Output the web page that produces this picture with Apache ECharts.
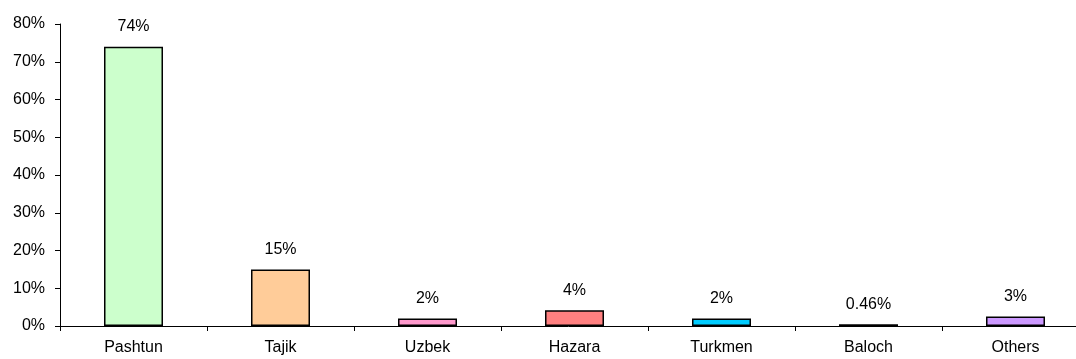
<!DOCTYPE html>
<html>
<head>
<meta charset="utf-8">
<script src="https://cdn.jsdelivr.net/npm/echarts@6/dist/echarts.min.js"></script>
<style>
html,body{margin:0;padding:0;background:#fff;}
#chart{width:1076px;height:359px;}
</style>
</head>
<body>
<div id="chart"></div>
<script>
var categories = ['Pashtun', 'Tajik', 'Uzbek', 'Hazara', 'Turkmen', 'Baloch', 'Others'];
var values = [74, 15, 2, 4.2, 2, 0.46, 2.5];
var valueLabels = ['74%', '15%', '2%', '4%', '2%', '0.46%', '3%'];
var barColors = ['#CCFFCC', '#FFCC99', '#FF99CC', '#FF8080', '#00CCFF', '#000000', '#CC99FF'];
var yTicks = [0, 10, 20, 30, 40, 50, 60, 70, 80];

var font = 'Liberation Sans, Arial, sans-serif';
var chart = echarts.init(document.getElementById('chart'), null, {renderer: 'canvas'});
chart.setOption({
  animation: false,
  backgroundColor: '#ffffff',
  grid: {left: 60, top: 24, width: 1029, height: 302, containLabel: false, outerBoundsMode: 'none'},
  xAxis: {
    type: 'category',
    data: categories,
    boundaryGap: true,
    axisLine: {lineStyle: {color: '#000', width: 1}},
    axisTick: {show: true, alignWithLabel: false, length: 5, lineStyle: {color: '#000'}},
    axisLabel: {color: '#000', fontFamily: font, fontSize: 16, margin: 14, interval: 0}
  },
  yAxis: {
    type: 'value',
    min: yTicks[0],
    max: yTicks[yTicks.length - 1],
    interval: 10,
    axisLine: {show: true, lineStyle: {color: '#000', width: 1}},
    axisTick: {show: true, length: 5, lineStyle: {color: '#000'}},
    splitLine: {show: false},
    axisLabel: {color: '#000', fontFamily: font, fontSize: 16, margin: 15, formatter: function (v) { return v + '%'; }}
  },
  series: [{
    type: 'bar',
    data: values.map(function (v, i) {
      return {value: v, itemStyle: {color: barColors[i]}};
    }),
    barWidth: 59,
    itemStyle: {borderColor: '#000', borderWidth: 1.5},
    label: {
      show: true,
      position: 'top',
      distance: 12,
      color: '#000',
      fontFamily: font,
      fontSize: 16,
      formatter: function (p) { return valueLabels[p.dataIndex]; }
    }
  }]
});
</script>
</body>
</html>
